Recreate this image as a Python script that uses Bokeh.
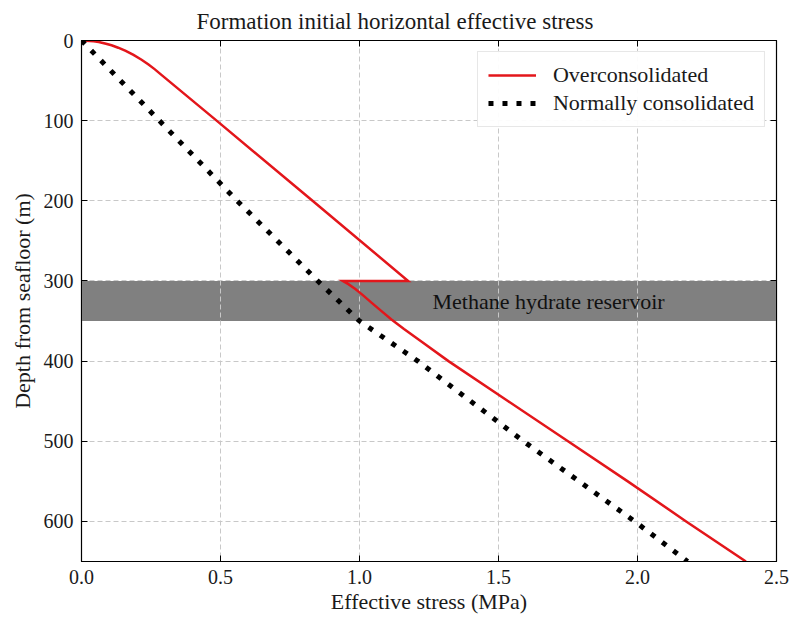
from bokeh.plotting import figure
from bokeh.models import Range1d, LinearAxis, BoxAnnotation, Label, Legend, LegendItem, FixedTicker
from bokeh.embed import file_html
from bokeh.resources import INLINE

# Data
oc_depth = [0, 1, 2, 4, 6, 9, 13, 18, 24, 30, 36, 41, 100, 200, 300,
            300, 304, 310, 318, 327, 337, 348, 360, 375, 400, 450, 500, 550, 600, 650]
oc_stress = [0.0, 0.044, 0.062, 0.088, 0.108, 0.132, 0.159, 0.187, 0.216, 0.241, 0.264, 0.281, 0.486, 0.831, 1.175,
             0.94, 0.96, 0.985, 1.013, 1.043, 1.077, 1.115, 1.16, 1.22, 1.32, 1.535, 1.75, 1.965, 2.175, 2.39]
nc_depth = [0, 100, 200, 300, 350, 400, 500, 600, 650]
nc_stress = [0.0, 0.28, 0.56, 0.85, 1.0, 1.21, 1.59, 1.99, 2.18]
reservoir_top = 300
reservoir_bottom = 350
x_ticks = [0.0, 0.5, 1.0, 1.5, 2.0, 2.5]
y_ticks = [0, 100, 200, 300, 400, 500, 600]

FONT = "Liberation Serif"
FS = "22px"
TICK_FS = "20px"
TXT = "#1a1a1a"

p = figure(width=792, height=621, output_backend="svg", toolbar_location=None,
           x_range=Range1d(0, 2.5), y_range=Range1d(650, 0),
           min_border_left=81, min_border_right=16, min_border_top=40, min_border_bottom=60,
           title="Formation initial horizontal effective stress")
p.title.text_font = FONT
p.title.text_font_size = "23px"
p.title.text_font_style = "normal"
p.title.align = "left"
p.title.text_color = TXT
p.title.offset = 115
p.title.standoff = 13

p.outline_line_color = "black"
p.outline_line_width = 1.2
p.background_fill_color = "white"
p.border_fill_color = "white"

for ax in (p.xaxis[0], p.yaxis[0]):
    ax.major_label_text_font = FONT
    ax.major_label_text_font_size = TICK_FS
    ax.major_label_text_color = TXT
    ax.axis_label_text_font = FONT
    ax.axis_label_text_font_size = FS
    ax.axis_label_text_font_style = "normal"
    ax.axis_label_text_color = TXT
    ax.major_tick_in = 6
    ax.major_tick_out = 0
    ax.minor_tick_in = 0
    ax.minor_tick_out = 0
    ax.axis_line_color = "black"
    ax.major_tick_line_color = "black"
    ax.major_label_standoff = 8

p.xaxis[0].ticker = FixedTicker(ticks=x_ticks)
p.yaxis[0].ticker = FixedTicker(ticks=y_ticks)
p.xaxis[0].major_label_overrides = {t: f"{t:.1f}" for t in x_ticks}
p.xaxis[0].axis_label = "Effective stress (MPa)"
p.yaxis[0].axis_label = "Depth from seafloor (m)"
p.xaxis[0].axis_label_standoff = 2
p.yaxis[0].axis_label_standoff = 6

# mirrored tick marks on top and right (no labels)
top = LinearAxis(ticker=FixedTicker(ticks=x_ticks),
                 major_label_overrides={t: "" for t in x_ticks},
                 major_tick_in=6, major_tick_out=0, minor_tick_in=0, minor_tick_out=0,
                 major_label_standoff=0, axis_line_color="black")
right = LinearAxis(ticker=FixedTicker(ticks=y_ticks),
                   major_label_overrides={t: "" for t in y_ticks},
                   major_tick_in=6, major_tick_out=0, minor_tick_in=0, minor_tick_out=0,
                   major_label_standoff=0, axis_line_color="black")
p.add_layout(top, "above")
p.add_layout(right, "right")

for g in (p.xgrid[0], p.ygrid[0]):
    g.grid_line_color = "#c8c8c8"
    g.grid_line_dash = "5 3"
    g.grid_line_width = 1
p.xgrid[0].ticker = FixedTicker(ticks=x_ticks)
p.ygrid[0].ticker = FixedTicker(ticks=y_ticks)

# reservoir band drawn beneath the grid
band = BoxAnnotation(top=reservoir_top, bottom=reservoir_bottom, fill_color="#808080",
                     fill_alpha=1.0, line_color=None, level="underlay")
p.center = [band] + list(p.center)

r_oc = p.line(oc_stress, oc_depth, line_color="#e3161b", line_width=2.5, line_join="miter")
r_nc = p.line(nc_stress, nc_depth, line_color="black", line_width=5, line_dash="5 9")

lab = Label(x=1.68, y=(reservoir_top + reservoir_bottom) / 2, text="Methane hydrate reservoir",
            text_align="center", text_baseline="middle", text_font=FONT, text_font_size=FS,
            text_color="#111111")
p.add_layout(lab)

legend = Legend(items=[LegendItem(label="Overconsolidated", renderers=[r_oc]),
                       LegendItem(label="Normally consolidated", renderers=[r_nc])],
                location="top_right")
legend.label_text_font = FONT
legend.label_text_font_size = FS
legend.label_text_color = TXT
legend.border_line_color = "#d0d0d0"
legend.border_line_width = 1
legend.glyph_width = 48
legend.label_standoff = 17
legend.spacing = 2
legend.padding = 10
legend.margin = 11
p.add_layout(legend)

open("out.html", "w").write(file_html(p, INLINE))
